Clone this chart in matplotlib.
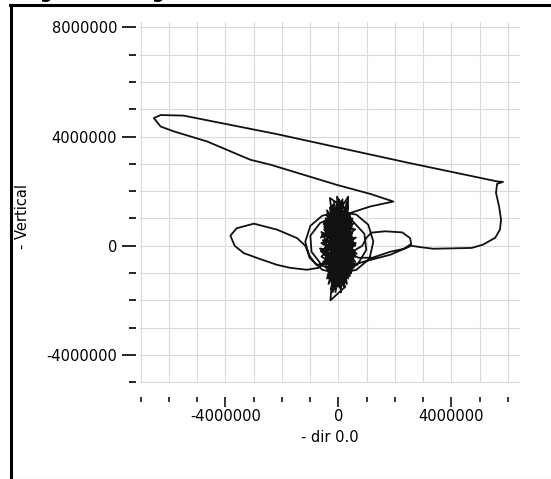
import numpy as np
import matplotlib
matplotlib.use("Agg")
import matplotlib.pyplot as plt
from matplotlib.lines import Line2D
from matplotlib.ticker import MultipleLocator, FormatStrFormatter

# values are in millions
# dense scribble around the origin
blob_x = [0.05, -0.1, 0.2, -0.3, 0.4, -0.45, 0.1, -0.2, 0.35, -0.4, 0.5, -0.15, 0.0, 0.25,
          -0.35, 0.45, -0.5, 0.3, -0.05, 0.15, -0.25, 0.55, -0.3, 0.2, -0.45, 0.4, -0.1, 0.05,
          0.35, -0.4, 0.25, -0.2, 0.5, -0.5, 0.1, -0.15, 0.3, -0.35, 0.45, -0.05, 0.2, -0.3,
          0.35, -0.25, 0.15, -0.45, 0.5, 0.0, -0.2, 0.4, -0.4, 0.3, -0.1, 0.1, -0.35, 0.25,
          -0.28, -0.2, 0.05, 0.35, 0.3, -0.15, 0.45, -0.5, 0.2, -0.3, -0.1, 0.55, -0.4, 0.1,
          0.05, 0.4, -0.35, 0.2, -0.05, 0.3, -0.5, 0.45, -0.2, 0.15, -0.25, 0.35, 0.0, -0.4,
          0.25, 0.1, -0.15, 0.5, -0.3, 0.05,
          -0.6, 0.6, -0.55, 0.62, -0.6, 0.58, -0.52, 0.6, -0.62, 0.5, -0.58, 0.55, -0.45, 0.65,
          -0.65, 0.4, -0.5, 0.6, -0.4, 0.52, -0.6, 0.45, -0.55, 0.62, -0.35, 0.5, -0.62, 0.3,
          -0.45, 0.55, -0.25, 0.6, -0.5, 0.2, -0.58, 0.48, -0.3, 0.4, -0.1, 0.0]
blob_y = [0.2, 1.3, -1.4, 1.0, -1.1, 0.6, 1.5, -1.5, 1.1, -0.9, 0.5, -1.6, 1.7, -1.3,
          1.2, -0.7, -0.3, 1.3, -1.4, 1.6, -1.2, 0.1, 1.4, -1.5, -0.5, 0.9, -1.7, 1.4,
          -1.2, 0.8, 1.2, -1.3, -0.4, 0.2, -1.6, 1.6, -0.9, -1.1, 1.0, 1.8, -1.1, 0.5,
          1.5, -1.6, 0.9, 1.0, -0.8, -1.5, 1.5, -0.2, -1.2, 1.6, -0.8, 1.1, -0.6, -1.5,
          -2.0, -1.0, 1.3, 1.8, 0.4, -1.4, -1.0, 0.6, 1.4, 1.75, 0.3, -0.3, 1.3, -1.7,
          -1.2, 1.2, -1.4, -0.5, 1.5, -1.4, -0.1, 0.7, -1.7, 1.7, 0.9, -0.6, -1.1, 0.3,
          1.0, -1.3, 1.2, 0.3, -0.7, 0.0,
          0.5, -0.4, -0.6, 0.3, 0.1, -0.7, 0.8, 0.6, -0.2, -0.9, 0.4, 0.0, 1.0, -0.3,
          -0.1, -1.1, 0.7, -0.6, 1.1, 0.8, -0.4, -1.0, 0.2, 0.1, -1.2, 1.0, 0.3, 1.3,
          -0.8, -0.8, 1.2, 0.0, 0.9, -1.3, -0.2, 0.7, -1.2, 1.1, -1.5, 0.1]

# big excursion: V, long lower line to the left tip, upper line to the right, back along y~0
trip_x = [0.3, 0.42, 1.13, 1.95, 1.13, -0.05, -1.23, -2.40, -3.11, -4.64, -5.82, -6.29, -6.53,
          -6.29, -5.48, -2.17, 2.43, 5.61, 5.83, 5.62, 5.58, 5.69, 5.76, 5.72, 5.55, 5.12,
          4.72, 3.36, 2.90, 2.58, 1.84, 1.02, 0.45, 0.1]
trip_y = [1.1, 1.20, 1.44, 1.62, 1.90, 2.23, 2.60, 2.97, 3.15, 3.82, 4.19, 4.37, 4.68,
          4.79, 4.77, 4.09, 3.05, 2.36, 2.34, 2.27, 1.94, 1.44, 0.95, 0.59, 0.29, 0.04,
          -0.08, -0.11, -0.05, 0.0, -0.33, -0.55, -0.72, -0.6]

# loops round the scribble, left lobe and right lobe
loop_x = [0.04, 0.64, 1.06, 1.24, 1.10, 0.64, 0.04, -0.57, -1.02, -1.17, -0.99, -0.57, 0.04,
          -0.07, 0.49, 0.92, 0.99, 0.67, 0.07, -0.57, -0.95, -0.99, -0.64, -0.07,
          -0.2, -0.71, -1.11, -1.70, -2.17, -2.76, -3.35, -3.67, -3.82, -3.60, -2.99, -2.17,
          -1.46, -1.17, -1.02, -0.78, -0.42,
          0.2, 0.49, 0.85, 0.99, 1.17, 1.66, 2.26, 2.54, 2.58, 2.33, 1.84, 1.20, 0.71, 0.3]
loop_y = [1.25, 1.14, 0.77, 0.15, -0.48, -0.88, -1.03, -0.88, -0.44, 0.15, 0.73, 1.10, 1.25,
          1.06, 0.92, 0.44, -0.15, -0.70, -0.95, -0.73, -0.22, 0.37, 0.84, 1.06,
          -0.4, -0.81, -0.88, -0.81, -0.70, -0.49, -0.27, 0.0, 0.37, 0.64, 0.81, 0.59,
          0.28, 0.0, -0.37, -0.70, -0.66,
          -0.3, -0.22, 0.0, 0.29, 0.48, 0.53, 0.49, 0.28, 0.07, -0.11, -0.22, -0.44, -0.44, -0.2]

plt.rcParams["axes.unicode_minus"] = False
plt.rcParams["font.family"] = "DejaVu Sans"

fig = plt.figure(figsize=(5.51, 4.79), dpi=100)
ax = fig.add_axes([140 / 551, 1 - 383 / 479, 380 / 551, 361 / 479])

xs = np.concatenate([blob_x, trip_x, loop_x]) * 1e6
ys = np.concatenate([blob_y, trip_y, loop_y]) * 1e6
ax.plot(xs, ys, color="#111111", lw=1.3, solid_joinstyle="round")

ax.set_xlim(-7.02e6, 6.43e6)
ax.set_ylim(-5.03e6, 8.2e6)

for axis in (ax.xaxis, ax.yaxis):
    axis.set_major_locator(MultipleLocator(4e6))
    axis.set_minor_locator(MultipleLocator(1e6))
    axis.set_major_formatter(FormatStrFormatter("%d"))

ax.grid(which="both", color="#dadada", lw=0.8)
ax.set_axisbelow(True)

for s in ax.spines.values():
    s.set_visible(False)
ax.spines["left"].set_position(("outward", 3))
ax.spines["bottom"].set_position(("outward", 10))

ax.tick_params(axis="y", which="major", length=10, width=1.2, pad=3.5, labelsize=10.5)
ax.tick_params(axis="y", which="minor", length=5, width=1.2)
ax.tick_params(axis="x", which="major", length=7, width=1.1, pad=1.5, labelsize=10.5)
ax.tick_params(axis="x", which="minor", length=3.6, width=1.1)

ax.set_xlabel("- dir 0.0", fontsize=10.5)
ax.xaxis.set_label_coords(0.5, -0.152)
ax.xaxis.label.set_va("center")
ax.set_ylabel("- Vertical", fontsize=10.5)
ax.yaxis.set_label_coords(-0.31, 0.4626)
ax.yaxis.label.set_va("center")

# window frame and the cut-off title above it
fig.add_artist(Line2D([10 / 551, 1], [1 - 5.3 / 479] * 2, transform=fig.transFigure, color="black", lw=2.2))
fig.add_artist(Line2D([10.5 / 551] * 2, [1 - 5.3 / 479, 0], transform=fig.transFigure, color="black", lw=2.2))
fig.add_artist(Line2D([10.5 / 551, 1], [0.5 / 479] * 2, transform=fig.transFigure, color="#d0d0d0", lw=0.8))
for gx in (46, 158):
    fig.text(gx / 551, 1 + 1.5 / 479, "g", ha="center", va="baseline", fontsize=13, fontweight="bold")

fig.savefig("out.png", dpi=100)
plt.close(fig)
